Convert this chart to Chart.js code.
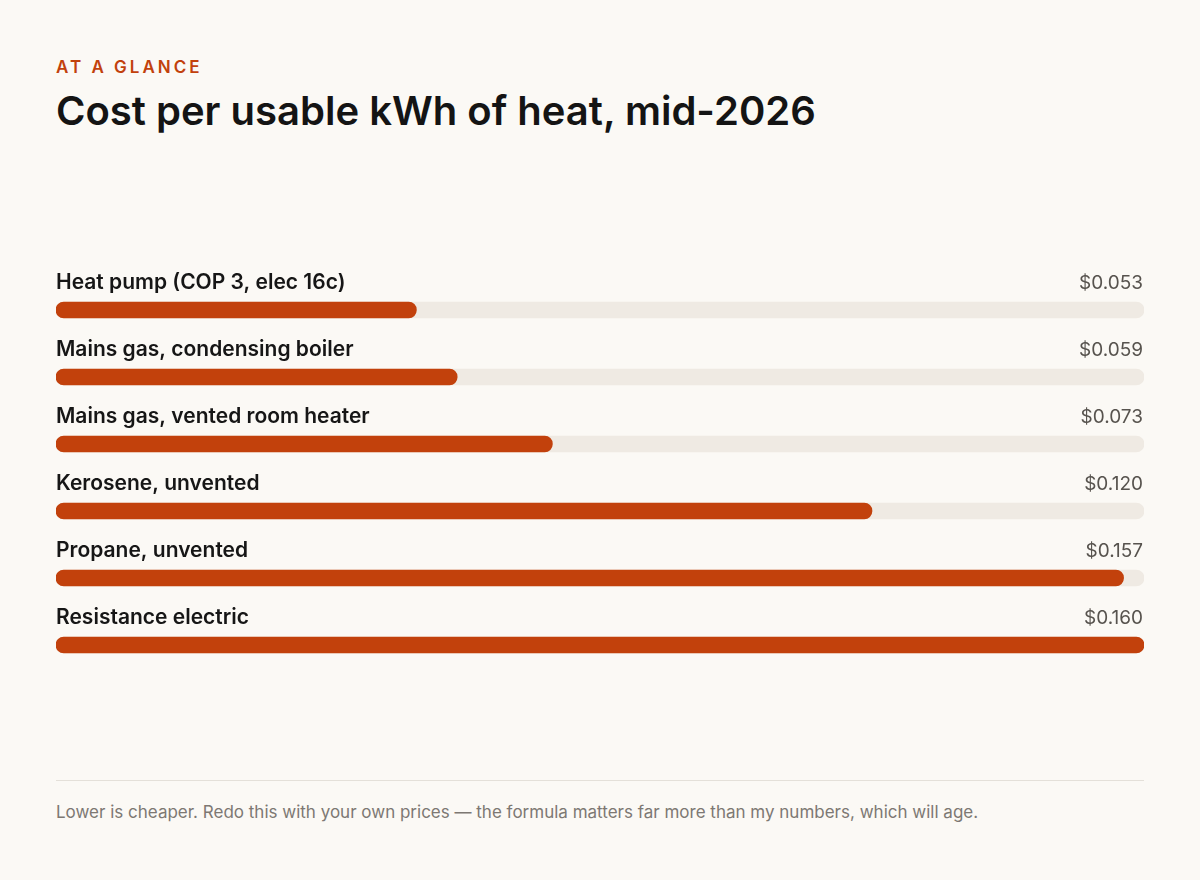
<!DOCTYPE html>
<html lang="en">
<head>
<meta charset="UTF-8">
<title>Cost per usable kWh of heat</title>
<script src="https://cdn.jsdelivr.net/npm/chart.js"></script>
<style>
    html, body {
        margin: 0;
        padding: 0;
        background: #fbf9f5;
        font-family: Inter, "Noto Sans", sans-serif;
    }
    .page {
        position: relative;
        width: 1200px;
        height: 880px;
    }
    .eyebrow {
        position: absolute;
        left: 56px;
        top: 56px;
        font-size: 17px;
        font-weight: 600;
        letter-spacing: 3px;
        color: #c2410c;
        line-height: 22px;
    }
    h1 {
        position: absolute;
        left: 56px;
        top: 86px;
        margin: 0;
        font-size: 40px;
        font-weight: 600;
        color: #141414;
        line-height: 50px;
    }
    .chart-box {
        position: absolute;
        left: 56px;
        top: 260px;
        width: 1088px;
        height: 430px;
    }
    .rule {
        position: absolute;
        left: 56px;
        top: 780px;
        width: 1088px;
        border-top: 1px solid #e4e0d9;
    }
    .note {
        position: absolute;
        left: 56px;
        top: 801px;
        font-size: 17px;
        color: #7d7873;
        line-height: 22px;
    }
</style>
</head>
<body>
<div class="page">
    <div class="eyebrow">AT A GLANCE</div>
    <h1>Cost per usable kWh of heat, mid-2026</h1>
    <div class="chart-box"><canvas id="costChart"></canvas></div>
    <div class="rule"></div>
    <div class="note">Lower is cheaper. Redo this with your own prices — the formula matters far more than my numbers, which will age.</div>
</div>

<script>
// data
const categories = [
    'Heat pump (COP 3, elec 16c)',
    'Mains gas, condensing boiler',
    'Mains gas, vented room heater',
    'Kerosene, unvented',
    'Propane, unvented',
    'Resistance electric'
];
const costs = [0.053, 0.059, 0.073, 0.120, 0.157, 0.160];
const axisMax = 0.16;
const trackValues = categories.map(() => axisMax);

// draws the category name above each bar and the price on the right
const rowLabels = {
    id: 'rowLabels',
    afterDatasetsDraw(chart) {
        const ctx = chart.ctx;
        const meta = chart.getDatasetMeta(1);
        const area = chart.chartArea;
        ctx.save();
        ctx.textBaseline = 'middle';
        meta.data.forEach((bar, i) => {
            const y = bar.y - 27;
            ctx.font = '600 21px Inter, "Noto Sans", sans-serif';
            ctx.fillStyle = '#161616';
            ctx.textAlign = 'left';
            ctx.fillText(categories[i], area.left, y);
            ctx.font = '400 19px Inter, "Noto Sans", sans-serif';
            ctx.fillStyle = '#57534e';
            ctx.textAlign = 'right';
            ctx.fillText('$' + costs[i].toFixed(3), area.right - 1, y);
        });
        ctx.restore();
    }
};

new Chart(document.getElementById('costChart'), {
    type: 'bar',
    data: {
        labels: categories,
        datasets: [
            {
                label: 'track',
                data: trackValues,
                backgroundColor: '#efeae3',
                barThickness: 16,
                borderRadius: 8,
                borderSkipped: false,
                grouped: false,
                order: 2
            },
            {
                label: 'Cost per kWh',
                data: costs,
                backgroundColor: '#c2410c',
                barThickness: 16,
                borderRadius: 8,
                borderSkipped: false,
                grouped: false,
                order: 1
            }
        ]
    },
    options: {
        indexAxis: 'y',
        responsive: true,
        maintainAspectRatio: false,
        animation: false,
        layout: { padding: { top: 16.5, bottom: 11.5, left: 0, right: 0 } },
        scales: {
            x: { min: 0, max: axisMax, display: false },
            y: { display: false }
        },
        plugins: {
            legend: { display: false },
            tooltip: { enabled: false }
        }
    },
    plugins: [rowLabels]
});
</script>
</body>
</html>
